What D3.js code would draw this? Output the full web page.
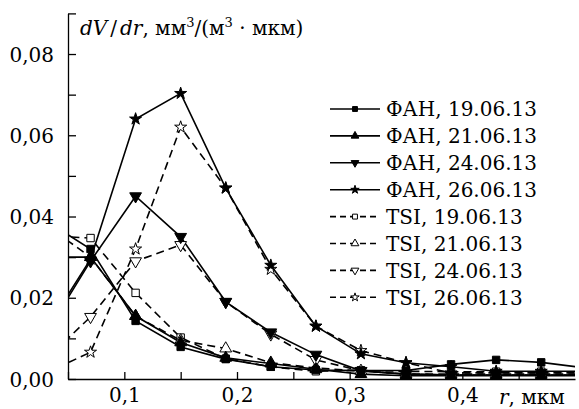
<!DOCTYPE html>
<html><head><meta charset="utf-8">
<script src="https://cdn.jsdelivr.net/npm/d3@7"></script>
<style>
body{margin:0;background:#fff}
svg{display:block}
text{font-family:"DejaVu Serif",serif;fill:#000}
</style></head><body>
<svg id="c" width="579" height="409"></svg>
<script>
// radii, мкм (first and last points lie outside the visible axis range and are clipped)
const radii = [0.03, 0.07, 0.11, 0.15, 0.19, 0.23, 0.27, 0.31, 0.35, 0.39, 0.43, 0.47, 0.51];
const fan19 = [0.039, 0.032, 0.0143, 0.0079, 0.0049, 0.0030, 0.0022, 0.0021, 0.0021, 0.0036, 0.0047, 0.0041, 0.0027];
const fan21 = [0.030, 0.030, 0.0155, 0.0090, 0.0052, 0.0038, 0.0024, 0.0012, 0.0008, 0.0008, 0.0008, 0.0008, 0.0008];
const fan24 = [0.011, 0.029, 0.045, 0.035, 0.019, 0.0115, 0.0060, 0.0020, 0.0012, 0.0010, 0.0010, 0.0010, 0.0010];
const fan26 = [0.012, 0.0295, 0.064, 0.0703, 0.047, 0.028, 0.013, 0.0062, 0.0040, 0.0030, 0.0019, 0.0019, 0.0019];
const tsi19 = [0.0353, 0.0347, 0.0212, 0.0102, 0.0050, 0.0030, 0.0019, 0.0021, 0.0019, 0.0018, 0.0018, 0.0018, 0.0018];
const tsi21 = [0.038, 0.030, 0.0155, 0.0095, 0.0075, 0.0040, 0.0027, 0.0020, 0.0012, 0.0012, 0.0012, 0.0012, 0.0012];
const tsi24 = [0.0047, 0.0153, 0.029, 0.033, 0.019, 0.011, 0.0047, 0.0020, 0.0012, 0.0010, 0.0010, 0.0010, 0.0010];
const tsi26 = [0.0014, 0.0066, 0.032, 0.062, 0.047, 0.027, 0.013, 0.0070, 0.0040, 0.0015, 0.0015, 0.0015, 0.0015];
const seriesNames = ["ФАН, 19.06.13","ФАН, 21.06.13","ФАН, 24.06.13","ФАН, 26.06.13",
                     "TSI, 19.06.13","TSI, 21.06.13","TSI, 24.06.13","TSI, 26.06.13"];
const seriesValues = [fan19, fan21, fan24, fan26, tsi19, tsi21, tsi24, tsi26];
const markerKind = ["square","up","down","star","square","up","down","star"];
const dashed = [false,false,false,false,true,true,true,true];
const yTicks = [0,0.01,0.02,0.03,0.04,0.05,0.06,0.07,0.08,0.09];
const yLabels = [0,0.02,0.04,0.06,0.08];
const xTicks = [0.05,0.1,0.15,0.2,0.25,0.3,0.35,0.4,0.45];
const xLabels = [0.1,0.2,0.3,0.4];

const svg = d3.select("#c");
const L = 68, R = 575, B = 379;
const x = d3.scaleLinear().domain([0.05, 0.5]).range([L, R]);
const y = d3.scaleLinear().domain([0, 0.09]).range([B, 13.4]);
const fmt = v => d3.format(".2f")(v).replace(".", ",");
const fmtx = v => d3.format(".1f")(v).replace(".", ",");

svg.append("clipPath").attr("id","clip").append("rect")
  .attr("x", L).attr("y", 0).attr("width", R - L).attr("height", B);

// axes
const ya = svg.append("g").attr("transform",`translate(${L},0)`)
  .call(d3.axisLeft(y).tickValues(yTicks).tickSizeInner(-8).tickSizeOuter(0).tickPadding(14)
    .tickFormat(v => yLabels.some(t => Math.abs(t - v) < 1e-9) ? fmt(v) : ""));
ya.selectAll("text").attr("font-size",20).attr("font-family","DejaVu Serif").attr("dy","0.35em");
const xa = svg.append("g").attr("transform",`translate(0,${B})`)
  .call(d3.axisBottom(x).tickValues(xTicks).tickSizeInner(-7).tickSizeOuter(0).tickPadding(9)
    .tickFormat(v => xLabels.some(t => Math.abs(t - v) < 1e-9) ? fmtx(v) : ""));
xa.selectAll("text").attr("font-size",20).attr("font-family","DejaVu Serif");
svg.selectAll(".domain, .tick line").attr("stroke","#000").attr("stroke-width",1.3);

// axis titles
const yt = svg.append("text").attr("x", 80).attr("y", 35).attr("font-size", 20);
yt.append("tspan").attr("font-style","italic").text("dV");
yt.append("tspan").attr("dx",3).text("/");
yt.append("tspan").attr("dx",3).attr("font-style","italic").text("dr");
yt.append("tspan").text(", мм");
yt.append("tspan").attr("font-size",13).attr("dy",-8).text("3");
yt.append("tspan").attr("dy",8).text("/(м");
yt.append("tspan").attr("font-size",13).attr("dy",-8).text("3");
yt.append("tspan").attr("dy",8).text(" · мкм)");
const xt = svg.append("text").attr("x", 499).attr("y", 404).attr("font-size", 20);
xt.append("tspan").attr("font-style","italic").text("r");
xt.append("tspan").text(", мкм");

function symbolFor(kind, size) {
  const t = kind === "square" ? d3.symbolSquare : kind === "star" ? d3.symbolStar : d3.symbolTriangle;
  return d3.symbol().type(t).size(size)();
}
function drawMarker(g, kind, filled, size) {
  g.append("path").attr("d", symbolFor(kind, size))
    .attr("transform", kind === "down" ? "rotate(180)" : null)
    .attr("fill", filled ? "#000" : "#fff").attr("stroke","#000").attr("stroke-width",1);
}

const plot = svg.append("g").attr("clip-path","url(#clip)");
const line = d3.line().x((d,i) => x(radii[i])).y(d => y(d));
const sizes = {square: 55, up: 60, down: 60, star: 45};
// draw TSI first, then ФАН on top
[4,5,6,7,0,1,2,3].forEach(si => {
  plot.append("path").datum(seriesValues[si]).attr("d", line)
    .attr("fill","none").attr("stroke","#000").attr("stroke-width",1.6)
    .attr("stroke-dasharray", dashed[si] ? "8,5" : null);
});
[4,5,6,7,0,1,2,3].forEach(si => {
  seriesValues[si].forEach((v,i) => {
    const g = plot.append("g").attr("transform",`translate(${x(radii[i])},${y(v)})`);
    drawMarker(g, markerKind[si], !dashed[si], sizes[markerKind[si]]);
  });
});

// legend
const leg = svg.append("g");
const legSizes = {square: 24, up: 26, down: 26, star: 22};
seriesNames.forEach((name, i) => {
  const yy = 109 + i * 26.9;
  const g = leg.append("g").attr("transform",`translate(0,${yy})`);
  g.append("line").attr("x1",330).attr("x2",380).attr("y1",0).attr("y2",0)
    .attr("stroke","#000").attr("stroke-width",1.6)
    .attr("stroke-dasharray", dashed[i] ? "6,4" : null);
  const m = g.append("g").attr("transform","translate(355,0)");
  drawMarker(m, markerKind[i], !dashed[i], legSizes[markerKind[i]]);
  g.append("text").attr("x",386).attr("y",0).attr("dy","0.36em").attr("font-size",20).text(name);
});
</script></body></html>
